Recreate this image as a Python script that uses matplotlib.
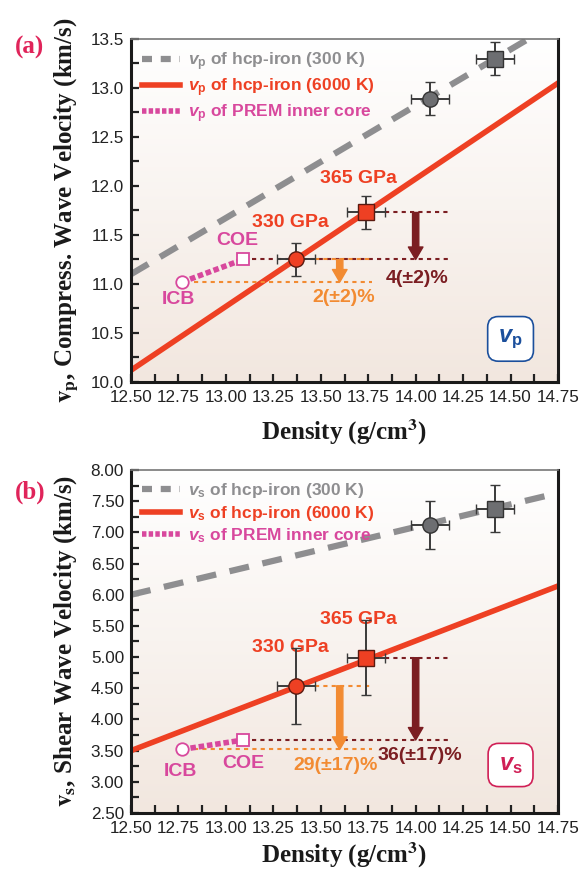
import numpy as np
import matplotlib
matplotlib.use('Agg')
import matplotlib.pyplot as plt
from matplotlib.colors import LinearSegmentedColormap
from matplotlib.lines import Line2D

plt.rcParams['font.family'] = ['Liberation Sans', 'DejaVu Sans']
plt.rcParams['mathtext.fontset'] = 'custom'
plt.rcParams['mathtext.it'] = 'Liberation Sans:bold:italic'
plt.rcParams['mathtext.rm'] = 'Liberation Sans:bold'
plt.rcParams['mathtext.bf'] = 'Liberation Sans:bold'

# ---- data ----
dens_line = [12.50, 14.75]

# panel (a) : vp
vp_300K = [11.10, 13.68]
vp_6000K = [10.12, 13.05]
dens_300K = [14.075, 14.42]
vp_300K_pts = [12.89, 13.30]
vp_300K_err = [0.17, 0.17]
dens_6000K = [13.37, 13.74]
vp_6000K_pts = [11.25, 11.73]
vp_6000K_err = [0.17, 0.17]
dens_err = [0.10, 0.10]
dens_prem = [12.77, 13.09]
vp_prem = [11.02, 11.25]

# panel (b) : vs
vs_300K = [6.00, 7.63]
vs_6000K = [3.50, 6.14]
vs_300K_pts = [7.12, 7.38]
vs_300K_err = [0.38, 0.38]
vs_6000K_pts = [4.54, 4.99]
vs_6000K_err = [0.61, 0.60]
vs_prem = [3.52, 3.67]

pct_a = ['2(±2)%', '4(±2)%']
pct_b = ['29(±17)%', '36(±17)%']
pressures = ['330 GPa', '365 GPa']

# ---- colours ----
gray = '#8e8e90'
red = '#ee4023'
pink = '#d8489d'
darkred = '#7b1e22'
orange = '#f28b32'
crimson = '#e0245a'

bg = LinearSegmentedColormap.from_list('bg', ['#ffffff', '#f2e7df'])


def draw_panel(ax, v300, v6000, v300pts, v300err, v6000pts, v6000err, vprem,
               sub, pct, ylim, yticks, yminor, ytickfmt, boxcol, lab_pos):
    # background gradient, white at top
    ax.imshow(np.linspace(0, 1, 256).reshape(-1, 1), cmap=bg, aspect='auto',
              extent=[0, 1, 0, 1], origin='upper', transform=ax.transAxes, zorder=0)
    ax.plot(dens_line, v300, color=gray, lw=4.5, ls=(0, (3.2, 2.2)),
            solid_capstyle='butt', dash_capstyle='butt', zorder=2)
    ax.plot(dens_line, v6000, color=red, lw=4, zorder=2)
    ax.plot(dens_prem, vprem, color=pink, lw=4, ls=(0, (1, 0.5)), zorder=3)

    # horizontal guide lines
    ax.plot([dens_prem[1] + 0.05, 14.18], [vprem[1], vprem[1]], color=darkred,
            lw=1.5, ls=(0, (2, 2)), zorder=2)
    ax.plot([dens_6000K[1] + 0.1, 14.18], [v6000pts[1], v6000pts[1]],
            color=darkred, lw=1.5, ls=(0, (2, 2)), zorder=2)
    ax.plot([dens_prem[0] + 0.06, 13.77], [vprem[0], vprem[0]], color=orange,
            lw=1.5, ls=(0, (2, 2)), zorder=2)
    ax.plot([dens_6000K[0] + 0.1, 13.77], [v6000pts[0], v6000pts[0]],
            color=orange, lw=1.5, ls=(0, (2, 2)), zorder=2)

    # arrows
    ax.annotate('', xy=(13.60, vprem[0]), xytext=(13.60, v6000pts[0]),
                arrowprops=dict(arrowstyle='simple,head_length=0.6,head_width=0.7,tail_width=0.3',
                                color=orange, shrinkA=0, shrinkB=0, mutation_scale=15), zorder=4)
    ax.annotate('', xy=(14.00, vprem[1]), xytext=(14.00, v6000pts[1]),
                arrowprops=dict(arrowstyle='simple,head_length=0.6,head_width=0.7,tail_width=0.3',
                                color=darkred, shrinkA=0, shrinkB=0, mutation_scale=15), zorder=4)

    # data points
    eb = dict(ecolor='#3a3a3a', elinewidth=1.4, capsize=3.5, capthick=1.8, ls='none', zorder=5)
    ax.errorbar(dens_300K[0], v300pts[0], xerr=dens_err[0], yerr=v300err[0], marker='o',
                ms=11, mfc='#6d6e71', mec='#333333', mew=1, **eb)
    ax.errorbar(dens_300K[1], v300pts[1], xerr=dens_err[1], yerr=v300err[1], marker='s',
                ms=11, mfc='#6d6e71', mec='#333333', mew=1, **eb)
    ax.errorbar(dens_6000K[0], v6000pts[0], xerr=dens_err[0], yerr=v6000err[0], marker='o',
                ms=11, mfc=red, mec='#5a1a10', mew=1, **eb)
    ax.errorbar(dens_6000K[1], v6000pts[1], xerr=dens_err[1], yerr=v6000err[1], marker='s',
                ms=11, mfc=red, mec='#5a1a10', mew=1, **eb)
    ax.plot(dens_prem[0], vprem[0], 'o', ms=9, mfc='white', mec=pink, mew=1.3, zorder=6)
    ax.plot(dens_prem[1], vprem[1], 's', ms=9, mfc='white', mec=pink, mew=1.3, zorder=6)

    # labels
    tk = dict(fontsize=14, fontweight='bold', ha='center', va='center')
    for (x, y), s in zip(lab_pos['gpa'], pressures):
        ax.text(x, y, s, color=red, **tk)
    ax.text(*lab_pos['coe'], 'COE', color=pink, **tk)
    ax.text(*lab_pos['icb'], 'ICB', color=pink, **tk)
    ax.text(*lab_pos['p0'], pct[0], color=orange, **tk)
    ax.text(*lab_pos['p1'], pct[1], color=darkred, **tk)
    ax.text(*lab_pos['box'], r'$v_\mathrm{%s}$' % sub, color=boxcol, fontsize=17,
            ha='center', va='center', zorder=7,
            bbox=dict(boxstyle='round,pad=0.45', fc='white', ec=boxcol, lw=1.2))

    # legend
    handles = [Line2D([], [], color=gray, lw=4.5, ls=(0, (1.6, 1.4)), dash_capstyle='butt'),
               Line2D([], [], color=red, lw=4),
               Line2D([], [], color=pink, lw=4, ls=(0, (0.8, 0.4)))]
    labels = [r'$v_\mathrm{%s}$ of hcp-iron (300 K)' % sub,
              r'$v_\mathrm{%s}$ of hcp-iron (6000 K)' % sub,
              r'$v_\mathrm{%s}$ of PREM inner core' % sub]
    ax.legend(handles, labels, loc='upper left', frameon=False, handlelength=2.2,
              handletextpad=0.45, labelspacing=0.2, borderaxespad=0.25,
              labelcolor=[gray, red, pink], prop=dict(family='Liberation Sans', weight='bold', size=12.5))

    ax.set_xlim(12.5, 14.75)
    ax.set_ylim(*ylim)
    ax.set_xticks(np.arange(12.5, 14.76, 0.25))
    ax.set_xticks(np.arange(12.625, 14.75, 0.25), minor=True)
    ax.set_xticklabels(['%.2f' % v for v in np.arange(12.5, 14.76, 0.25)])
    ax.set_yticks(yticks)
    ax.set_yticks(yminor, minor=True)
    ax.set_yticklabels([ytickfmt % v for v in yticks])
    ax.tick_params(which='both', direction='in', length=6, width=1.6, labelsize=12.3,
                   colors='#222222')
    ax.tick_params(axis='x', pad=6)
    ax.tick_params(axis='y', pad=5)
    for s in ['left', 'bottom', 'right']:
        ax.spines[s].set_linewidth(2.2)
        ax.spines[s].set_color('#1a1a1a')
    ax.spines['top'].set_linewidth(1.2)
    ax.spines['top'].set_color('#777777')


fig = plt.figure(figsize=(5.82, 8.71), dpi=100)
ax1 = fig.add_axes([131 / 582, 1 - 382 / 871, 427 / 582, 343 / 871])
ax2 = fig.add_axes([131 / 582, 1 - 813 / 871, 427 / 582, 343 / 871])

draw_panel(ax1, vp_300K, vp_6000K, vp_300K_pts, vp_300K_err, vp_6000K_pts, vp_6000K_err,
           vp_prem, 'p', pct_a, (10.0, 13.5), np.arange(10.0, 13.51, 0.5),
           np.arange(10.25, 13.5, 0.5), '%.1f', '#1b4f9c',
           {'gpa': [(13.34, 11.63), (13.70, 12.08)], 'coe': (13.06, 11.44),
            'icb': (12.75, 10.84), 'p0': (13.62, 10.86), 'p1': (14.01, 11.06),
            'box': (14.50, 10.44)})
draw_panel(ax2, vs_300K, vs_6000K, vs_300K_pts, vs_300K_err, vs_6000K_pts, vs_6000K_err,
           vs_prem, 's', pct_b, (2.5, 8.0), np.arange(2.5, 8.01, 0.5),
           np.arange(2.75, 8.0, 0.5), '%.2f', '#d01f56',
           {'gpa': [(13.34, 5.15), (13.70, 5.60)], 'coe': (13.09, 3.30),
            'icb': (12.76, 3.17), 'p0': (13.58, 3.26), 'p1': (14.02, 3.43),
            'box': (14.50, 3.27)})

# axis titles
serif = dict(family='Liberation Serif', weight='bold', fontsize=18, color='#1a1a1a')
fig.text(344 / 582, 1 - 432 / 871, 'Density (g/cm$^\\mathbf{3}$)', ha='center', va='center',
         math_fontfamily='stix', **serif)
fig.text(344 / 582, 1 - 855 / 871, 'Density (g/cm$^\\mathbf{3}$)', ha='center', va='center',
         math_fontfamily='stix', **serif)
fig.text(66 / 582, 1 - 210 / 871, r'$\mathbf{v}_\mathbf{p}$, Compress. Wave Velocity (km/s)',
         rotation=90, ha='center', va='center', math_fontfamily='stix', **serif)
fig.text(66 / 582, 1 - 641 / 871, r'$\mathbf{v}_\mathbf{s}$, Shear Wave Velocity (km/s)',
         rotation=90, ha='center', va='center', math_fontfamily='stix', **serif)

fig.text(30 / 582, 1 - 47 / 871, '(a)', ha='center', va='center', family='Liberation Serif',
         weight='bold', fontsize=18, color=crimson)
fig.text(30 / 582, 1 - 492 / 871, '(b)', ha='center', va='center', family='Liberation Serif',
         weight='bold', fontsize=18, color=crimson)

plt.savefig('out.png', dpi=100)
